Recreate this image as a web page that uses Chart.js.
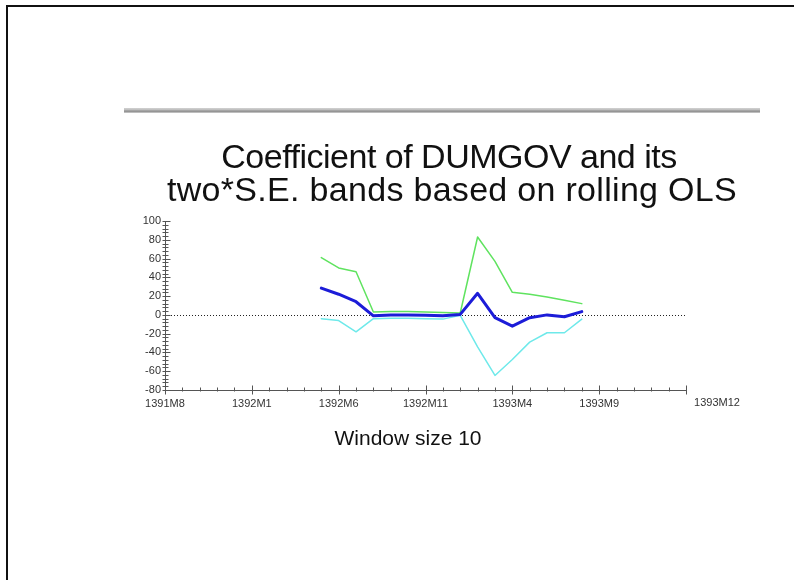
<!DOCTYPE html>
<html>
<head>
<meta charset="utf-8">
<script src="https://cdn.jsdelivr.net/npm/chart.js@4/dist/chart.umd.min.js"></script>
<style>
  html, body { margin: 0; padding: 0; background: #fff; }
  #wrap { position: relative; width: 794px; height: 580px; overflow: hidden; background: #fff; }
  #chart { position: absolute; left: 0; top: 0; }
  .frameTop { position: absolute; left: 6px; top: 5px; width: 788px; height: 2px; background: #111; }
  .frameLeft { position: absolute; left: 6px; top: 5px; width: 2px; height: 575px; background: #111; }
  .rule { position: absolute; left: 124px; top: 108px; width: 636px; height: 5px;
          background: linear-gradient(#d2d2d2 0, #bcbcbc 40%, #8e8e8e 60%, #9c9c9c 80%, #dedede 100%); }
</style>
</head>
<body>
<div id="wrap">
  <canvas id="chart" width="794" height="580"></canvas>
  <div class="frameTop"></div>
  <div class="frameLeft"></div>
  <div class="rule"></div>
</div>
<script>
// Monthly axis of the rolling window (Iranian calendar months)
const axisMonths = [
  '1391M8','1391M9','1391M10','1391M11','1391M12',
  '1392M1','1392M2','1392M3','1392M4','1392M5','1392M6','1392M7','1392M8','1392M9','1392M10','1392M11','1392M12',
  '1393M1','1393M2','1393M3','1393M4','1393M5','1393M6','1393M7','1393M8','1393M9','1393M10','1393M11','1393M12',
  '1394M1','1394M2'
];
const labeledMonths = ['1391M8','1392M1','1392M6','1392M11','1393M4','1393M9'];
const endLabel = '1393M12';

// End month of each rolling window
const months = [
  '1392M5','1392M6','1392M7','1392M8','1392M9','1392M10','1392M11','1392M12',
  '1393M1','1393M2','1393M3','1393M4','1393M5','1393M6','1393M7','1393M8'
];
// Coefficient of DUMGOV
const coef  = [28.5, 22, 14, -1, 0, 0, -0.5, -1, 0.5, 23, -3, -12, -3, 0, -2, 3.5];
// Coefficient + 2*S.E.
const upper = [61, 50, 46, 3, 3.5, 3.5, 3, 2.5, 2, 83, 57, 24, 22, 19, 15.5, 12];
// Coefficient - 2*S.E.
const lower = [-4, -6, -18, -4, -3.5, -3.5, -4, -4.5, -0.5, -34, -64.5, -47.5, -29, -19, -19, -4.5];

const yTickLabels = [-80, -60, -40, -20, 0, 20, 40, 60, 80, 100];

const toPoints = vals => months.map((m, i) => ({ x: axisMonths.indexOf(m), y: vals[i] }));

const FONT = '"Liberation Sans", Arial, sans-serif';

// Tick marks crossing both axes, zero reference line and the text captions
const decorations = {
  id: 'decorations',
  beforeDatasetsDraw(chart) {
    const { ctx, chartArea, scales: { y } } = chart;
    ctx.save();
    // dotted zero line
    const y0 = Math.round(y.getPixelForValue(0)) + 0.5;
    ctx.strokeStyle = '#222';
    ctx.lineWidth = 1;
    ctx.setLineDash([1, 2]);
    ctx.beginPath();
    ctx.moveTo(chartArea.left, y0);
    ctx.lineTo(chartArea.right, y0);
    ctx.stroke();
    ctx.setLineDash([]);
    ctx.restore();
  },
  afterDraw(chart) {
    const { ctx, chartArea, scales: { x, y } } = chart;
    ctx.save();
    ctx.strokeStyle = '#555';
    ctx.lineWidth = 1;
    ctx.beginPath();
    // x axis ticks
    const yb = Math.round(chartArea.bottom) + 0.5;
    x.ticks.forEach(t => {
      const px = Math.round(x.getPixelForValue(t.value)) + 0.5;
      const major = labeledMonths.includes(axisMonths[t.value]) || t.value === axisMonths.length - 1;
      ctx.moveTo(px, yb - (major ? 5 : 3));
      ctx.lineTo(px, yb + (major ? 4 : 1));
    });
    // y axis ticks
    const xl = Math.round(chartArea.left) + 0.5;
    y.ticks.forEach(t => {
      const py = Math.round(y.getPixelForValue(t.value)) + 0.5;
      const major = yTickLabels.includes(t.value);
      ctx.moveTo(xl - 3, py);
      ctx.lineTo(xl + (major ? 5 : 3), py);
    });
    ctx.stroke();

    // label placed past the end of the time axis
    ctx.fillStyle = '#333';
    ctx.font = '11px ' + FONT;
    ctx.textAlign = 'center';
    ctx.textBaseline = 'top';
    ctx.fillText(endLabel, x.getPixelForValue(axisMonths.length - 1) + 31, chartArea.bottom + 7);

    // title
    ctx.fillStyle = '#111';
    ctx.font = '34px ' + FONT;
    ctx.textBaseline = 'alphabetic';
    ctx.letterSpacing = '-0.5px';
    ctx.fillText('Coefficient of DUMGOV and its', 449, 168);
    ctx.letterSpacing = '0.3px';
    ctx.fillText('two*S.E. bands based on rolling OLS', 452, 201);
    ctx.letterSpacing = '0px';

    // window caption
    ctx.font = '21px ' + FONT;
    ctx.fillText('Window size 10', 408, 445);
    ctx.restore();
  }
};

new Chart(document.getElementById('chart'), {
  type: 'line',
  data: {
    datasets: [
      { label: 'Coefficient', data: toPoints(coef), borderColor: '#1c1cd8', borderWidth: 3 },
      { label: 'Upper band', data: toPoints(upper), borderColor: '#5fe35f', borderWidth: 1.5 },
      { label: 'Lower band', data: toPoints(lower), borderColor: '#6ee9ea', borderWidth: 1.5 }
    ]
  },
  options: {
    responsive: false,
    devicePixelRatio: 1,
    animation: false,
    layout: { padding: { left: 0, right: 108, top: 221, bottom: 160 } },
    elements: {
      line: { tension: 0, fill: false, borderJoinStyle: 'round', borderCapStyle: 'round' },
      point: { radius: 0, hoverRadius: 0 }
    },
    plugins: { legend: { display: false }, tooltip: { enabled: false }, title: { display: false } },
    scales: {
      x: {
        type: 'linear',
        min: 0,
        max: axisMonths.length - 1,
        afterFit: s => { s.height = 30; },
        grid: { display: false, drawTicks: false },
        border: { display: true, color: '#555', width: 1 },
        ticks: {
          stepSize: 1,
          autoSkip: false,
          maxRotation: 0,
          padding: 7,
          color: '#333',
          font: { family: FONT, size: 11 },
          callback: v => labeledMonths.includes(axisMonths[v]) ? axisMonths[v] : ''
        }
      },
      y: {
        min: -80,
        max: 100,
        afterFit: s => { s.width = 165; },
        grid: { display: false, drawTicks: false },
        border: { display: true, color: '#555', width: 1 },
        ticks: {
          stepSize: 4,
          autoSkip: false,
          padding: 4,
          color: '#333',
          font: { family: FONT, size: 11 },
          callback: v => yTickLabels.includes(v) ? String(v) : ''
        }
      }
    }
  },
  plugins: [decorations]
});
</script>
</body>
</html>
